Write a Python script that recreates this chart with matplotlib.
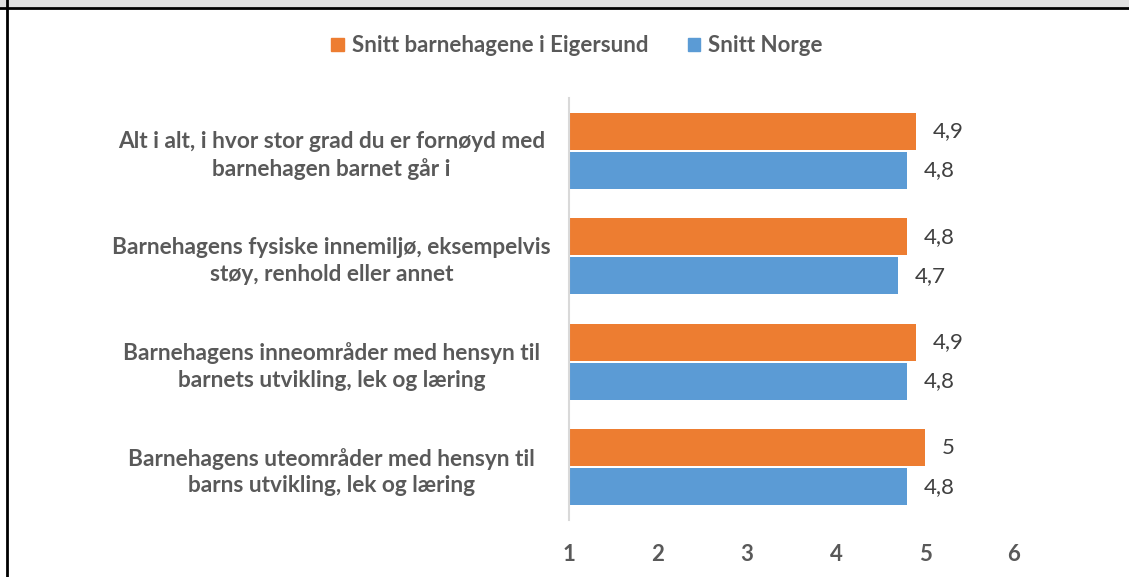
import matplotlib
matplotlib.use("Agg")
import matplotlib.pyplot as plt
import matplotlib.patches as ptchs
import numpy as np

########### DATA ###########
CATEGORIES = [
    "Alt i alt, i hvor stor grad du er fornøyd med\nbarnehagen barnet går i",
    "Barnehagens fysiske innemiljø, eksempelvis\nstøy, renhold eller annet",
    "Barnehagens inneområder med hensyn til\nbarnets utvikling, lek og læring",
    "Barnehagens uteområder med hensyn til\nbarns utvikling, lek og læring",
]
EIGERSUND = [4.9, 4.8, 4.9, 5.0]
NORGE = [4.8, 4.7, 4.8, 4.8]
SERIES_NAMES = ["Snitt barnehagene i Eigersund", "Snitt Norge"]
X_TICKS = [1, 2, 3, 4, 5, 6]
############################

ORANGE = "#ed7d31"
BLUE = "#5b9bd5"
TEXT_GRAY = "#595959"
FONT = ["Lato", "DejaVu Sans"]

plt.rcParams["font.family"] = FONT

fig = plt.figure(figsize=(11.29, 5.77), dpi=100)
ax = fig.add_axes([569 / 1129, 1 - 520 / 577, (1014 - 569) / 1129, (520 - 98) / 577])

y = np.arange(len(CATEGORIES))
h = 0.35
off = 0.185
ax.barh(y - off, [v - 1 for v in EIGERSUND], left=1, height=h, color=ORANGE)
ax.barh(y + off, [v - 1 for v in NORGE], left=1, height=h, color=BLUE)


def fmt(v):
    s = f"{v:.1f}".replace(".", ",")
    return s[:-2] if s.endswith(",0") else s


for i in range(len(CATEGORIES)):
    ax.text(EIGERSUND[i] + 0.19, y[i] - off, fmt(EIGERSUND[i]), va="center", ha="left",
            fontsize=16, color="#404040")
    ax.text(NORGE[i] + 0.19, y[i] + off, fmt(NORGE[i]), va="center", ha="left",
            fontsize=16, color="#404040")

ax.set_xlim(1, 6)
ax.set_ylim(len(CATEGORIES) - 0.5, -0.5)
ax.set_xticks(X_TICKS)
ax.set_xticklabels([str(t) for t in X_TICKS], fontsize=16, fontweight="bold", color=TEXT_GRAY)
ax.set_yticks(y)
ax.set_yticklabels(CATEGORIES, fontsize=16.3, fontweight="bold", color=TEXT_GRAY,
                   ha="center", linespacing=1.33)
ax.tick_params(axis="y", length=0, pad=171)
ax.tick_params(axis="x", length=0, pad=17)
for s in ["top", "right", "bottom"]:
    ax.spines[s].set_visible(False)
ax.spines["left"].set_color("#d9d9d9")
ax.spines["left"].set_linewidth(1.5)

# legend
handles = [ptchs.Patch(color=ORANGE), ptchs.Patch(color=BLUE)]
leg = fig.legend(handles, SERIES_NAMES, loc="center", bbox_to_anchor=(577 / 1129, 1 - 46 / 577),
                 ncol=2, frameon=False, handlelength=0.55, handleheight=0.55,
                 handletextpad=0.36, columnspacing=1.8,
                 prop={"family": FONT, "weight": "bold", "size": 16})
for t in leg.get_texts():
    t.set_color(TEXT_GRAY)

# frame around the chart area
fig.patches.append(ptchs.Rectangle((0, 1 - 7 / 577), 1, 7 / 577, transform=fig.transFigure,
                                   facecolor="#e0e0e0", edgecolor="none"))
fig.lines.append(plt.Line2D([0, 1], [1 - 7.5 / 577] * 2, transform=fig.transFigure,
                            color="black", linewidth=2))
fig.lines.append(plt.Line2D([6.5 / 1129] * 2, [0, 1], transform=fig.transFigure,
                            color="black", linewidth=2))

fig.savefig("out.png", dpi=100)
